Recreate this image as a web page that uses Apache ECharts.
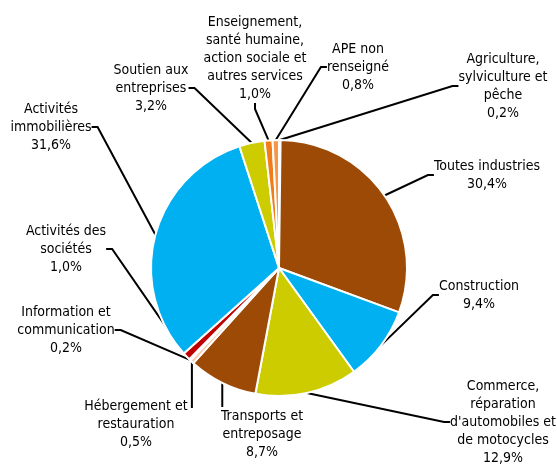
<!DOCTYPE html>
<html>
<head>
<meta charset="utf-8">
<script src="https://cdn.jsdelivr.net/npm/echarts@6/dist/echarts.min.js"></script>
<style>
    html, body { margin: 0; padding: 0; background: #fff; }
    #chart { width: 557px; height: 465px; }
</style>
</head>
<body>
<div id="chart"></div>
<script>
// secteurs, dans l'ordre horaire depuis midi
var sectors = [
    "Agriculture,\nsylviculture et\npêche",
    "Toutes industries",
    "Construction",
    "Commerce,\nréparation\nd'automobiles et\nde motocycles",
    "Transports et\nentreposage",
    "Hébergement et\nrestauration",
    "Information et\ncommunication",
    "Activités des\nsociétés",
    "Activités\nimmobilières",
    "Soutien aux\nentreprises",
    "Enseignement,\nsanté humaine,\naction sociale et\nautres services",
    "APE non\nrenseigné"
];
var shares = [0.2, 30.4, 9.4, 12.9, 8.7, 0.5, 0.2, 1.0, 31.6, 3.2, 1.0, 0.8];
var colors = ['#f4b183', '#9c4a05', '#00b0f0', '#cccc00', '#9c4a05', '#f8cbad',
              '#9dc3e6', '#c00000', '#00b0f0', '#cccc00', '#f07d1a', '#f79646'];

// centre des étiquettes (mise en page)
var labelPos = [
    [503, 86], [487, 175], [479, 295], [503, 422], [262, 434], [136, 424],
    [66, 330], [66, 249], [51, 127], [151, 88], [255, 58], [358, 67]
];
// traits verticaux : index -> fin du trait en y
var verticalLeader = { 4: 407, 5: 408 };

var chart = echarts.init(document.getElementById('chart'));

var data = sectors.map(function (name, i) {
    return { name: name, value: shares[i], itemStyle: { color: colors[i] } };
});

var option = {
    animation: false,
    series: [{
        type: 'pie',
        center: [279, 268],
        radius: 128,
        startAngle: 90,
        clockwise: true,
        avoidLabelOverlap: false,
        itemStyle: { borderColor: '#fff', borderWidth: 2 },
        label: {
            show: true,
            color: '#000',
            fontFamily: 'DejaVu Sans Condensed',
            fontSize: 14,
            lineHeight: 18,
            align: 'center',
            formatter: function (p) {
                return p.name + '\n' + p.value.toFixed(1).replace('.', ',') + '%';
            }
        },
        labelLine: {
            show: true,
            length: 10,
            length2: 6,
            lineStyle: { color: '#000', width: 2 }
        },
        labelLayout: function (p) {
            var pos = labelPos[p.dataIndex];
            var res = { x: pos[0], y: pos[1], align: 'center', verticalAlign: 'middle' };
            var endY = verticalLeader[p.dataIndex];
            if (endY && p.labelLinePoints) {
                var p0 = p.labelLinePoints[0];
                res.labelLinePoints = [
                    [p0[0], p0[1]],
                    [p0[0], (p0[1] + endY) / 2],
                    [p0[0], endY]
                ];
            }
            return res;
        },
        data: data
    }]
};

chart.setOption(option);
</script>
</body>
</html>
